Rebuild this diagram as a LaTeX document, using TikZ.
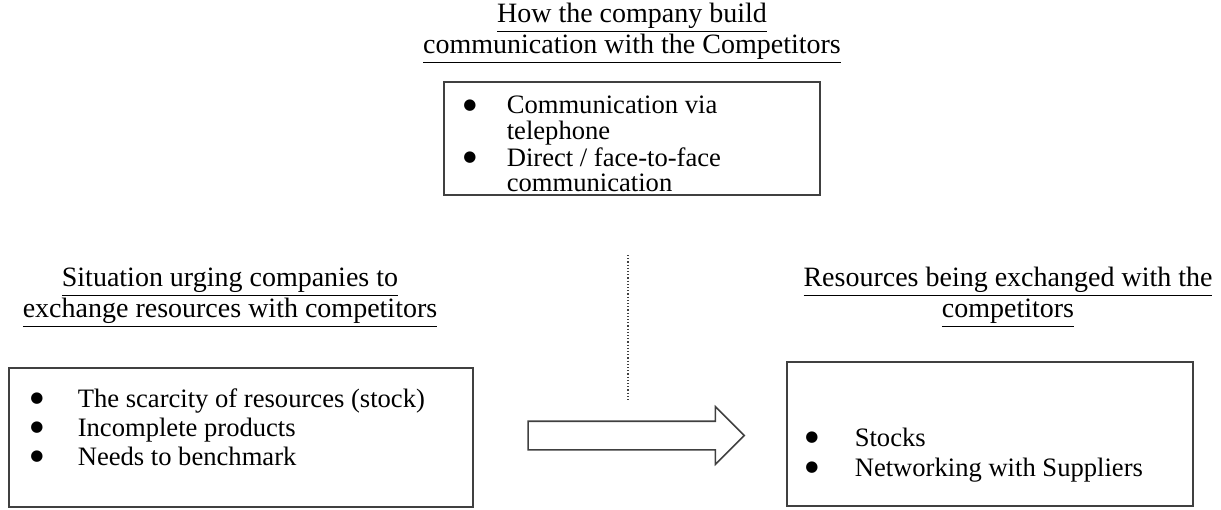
\documentclass[tikz,border=0pt]{standalone}
\usepackage{fontspec}
\setmainfont{Liberation Serif}
\newfontfamily\dotfont{DejaVu Sans}
\usetikzlibrary{shapes.arrows, calc}

\newcommand{\blt}{\makebox[9pt]{\raisebox{2.3pt}{\dotfont\fontsize{7.5}{8}\selectfont ●}}}

\tikzset{
  box/.style = {rectangle, draw=black!75, line width = .6pt, inner sep = 0pt},
  heading/.style = {align = center, font = \fontsize{14}{15.5}\selectfont},
  items/.style = {anchor = west, inner sep = 0pt}
}

\begin{document}
\begin{tikzpicture}[x = .5pt, y = -.5pt]
  \useasboundingbox (0,0) rectangle (1221,509);

  \node[box, minimum width = 188pt, minimum height = 56.5pt] at (632,138.5) (topbox) {};
  \node[box, minimum width = 232pt, minimum height = 69.5pt] at (241,437.5) (sitbox) {};
  \node[box, minimum width = 203pt, minimum height = 72pt] at (990,434) (resbox) {};

  \node[items, font = \fontsize{13.3}{12.5}\selectfont] at ($(topbox.west)+(17,9)$) (toplist)
  {\begin{tabular}{@{}l@{\hspace{14pt}}l@{}}
     \blt & Communication via\\
          & telephone\\
     \blt & Direct / face-to-face\\
          & communication
   \end{tabular}};

  \node[items, font = \fontsize{13.3}{14.5}\selectfont] at ($(sitbox.west)+(19,-7)$) (sitlist)
  {\begin{tabular}{@{}l@{\hspace{16pt}}l@{}}
     \blt & The scarcity of resources (stock)\\
     \blt & Incomplete products\\
     \blt & Needs to benchmark
   \end{tabular}};

  \node[items, font = \fontsize{13.3}{15}\selectfont] at ($(resbox.west)+(16,21)$) (reslist)
  {\begin{tabular}{@{}l@{\hspace{17pt}}l@{}}
     \blt & Stocks\\
     \blt & Networking with Suppliers
   \end{tabular}};

  \node[heading, above of = topbox, node distance = 52.75pt] (toptitle)
  {\underline{How the company build}\\\underline{communication with the Competitors}};
  \node[heading, above of = sitbox, node distance = 70pt, xshift = -5.5pt] (sittitle)
  {\underline{Situation urging companies to}\\\underline{exchange resources with competitors}};
  \node[heading, above of = resbox, node distance = 68.25pt, xshift = 9pt] (restitle)
  {\underline{Resources being exchanged with the}\\\underline{competitors}};

  \node[single arrow, draw = black!75, line width = .8pt, inner sep = 6.75pt,
        minimum height = 108pt, single arrow head extend = 7.25pt,
        single arrow tip angle = 90] at (629,435.5) (flow) {};

  \coordinate (linktop) at (628,255);
  \coordinate (linkbot) at (628,400);
  \draw[densely dotted, black!75, line width = .6pt] (linktop) -- (linkbot);
\end{tikzpicture}
\end{document}
